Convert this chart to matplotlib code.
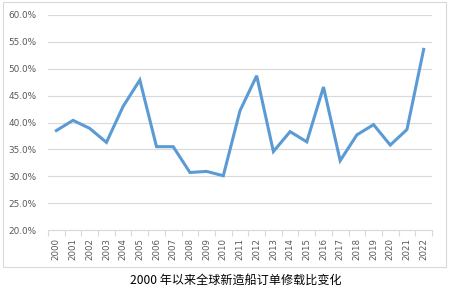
import matplotlib
matplotlib.use("Agg")
import matplotlib.pyplot as plt
from matplotlib.patches import Rectangle
from matplotlib.ticker import FixedLocator, FuncFormatter

years = [str(y) for y in range(2000, 2023)]
ratio = [38.5, 40.4, 38.9, 36.3, 43.0, 47.9, 35.5, 35.5, 30.7, 30.9, 30.1,
         42.2, 48.7, 34.6, 38.3, 36.4, 46.6, 32.9, 37.7, 39.6, 35.8, 38.7, 53.6]
yticks = [20, 25, 30, 35, 40, 45, 50, 55, 60]
title = "2000 年以来全球新造船订单修载比变化"

W, H = 450, 289
fig = plt.figure(figsize=(W / 100, H / 100), dpi=100)
fig.patch.set_facecolor("white")

# outer chart frame
fig.patches.append(Rectangle((3 / W, (H - 267) / H), 443 / W, 265 / H,
                             transform=fig.transFigure, fill=False,
                             edgecolor="#D9D9D9", linewidth=0.8))

ax = fig.add_axes([48 / W, (H - 230) / H, 384 / W, 215 / H])
x = list(range(len(years)))
ax.plot(x, ratio, color="#5B9BD5", linewidth=2.2, solid_joinstyle="miter")
ax.set_xlim(-0.5, len(years) - 0.5)
ax.set_ylim(20, 60)
ax.set_yticks(yticks)
ax.yaxis.set_major_formatter(FuncFormatter(lambda v, p: f"{v:.1f}%"))
ax.grid(axis="y", color="#D9D9D9", linewidth=0.8)
ax.set_axisbelow(True)
for s in ["top", "right", "left"]:
    ax.spines[s].set_visible(False)
ax.spines["bottom"].set_color("#D9D9D9")
ax.spines["bottom"].set_linewidth(0.8)
ax.set_xticks(x)
ax.set_xticklabels(years, rotation=90)
ax.xaxis.set_minor_locator(FixedLocator([i - 0.5 for i in range(len(years) + 1)]))
ax.tick_params(axis="x", which="major", length=0, pad=6, labelsize=6.2, labelcolor="#595959")
ax.tick_params(axis="x", which="minor", length=4, color="#D9D9D9", width=0.8)
ax.tick_params(axis="y", length=0, pad=8, labelsize=6.4, labelcolor="#595959")

fig.text(236 / W, 9 / H, title, ha="center", va="center", fontsize=8.7,
         family=["Noto Sans CJK SC", "DejaVu Sans"], color="black")

fig.savefig("out.png", dpi=100, facecolor="white")
